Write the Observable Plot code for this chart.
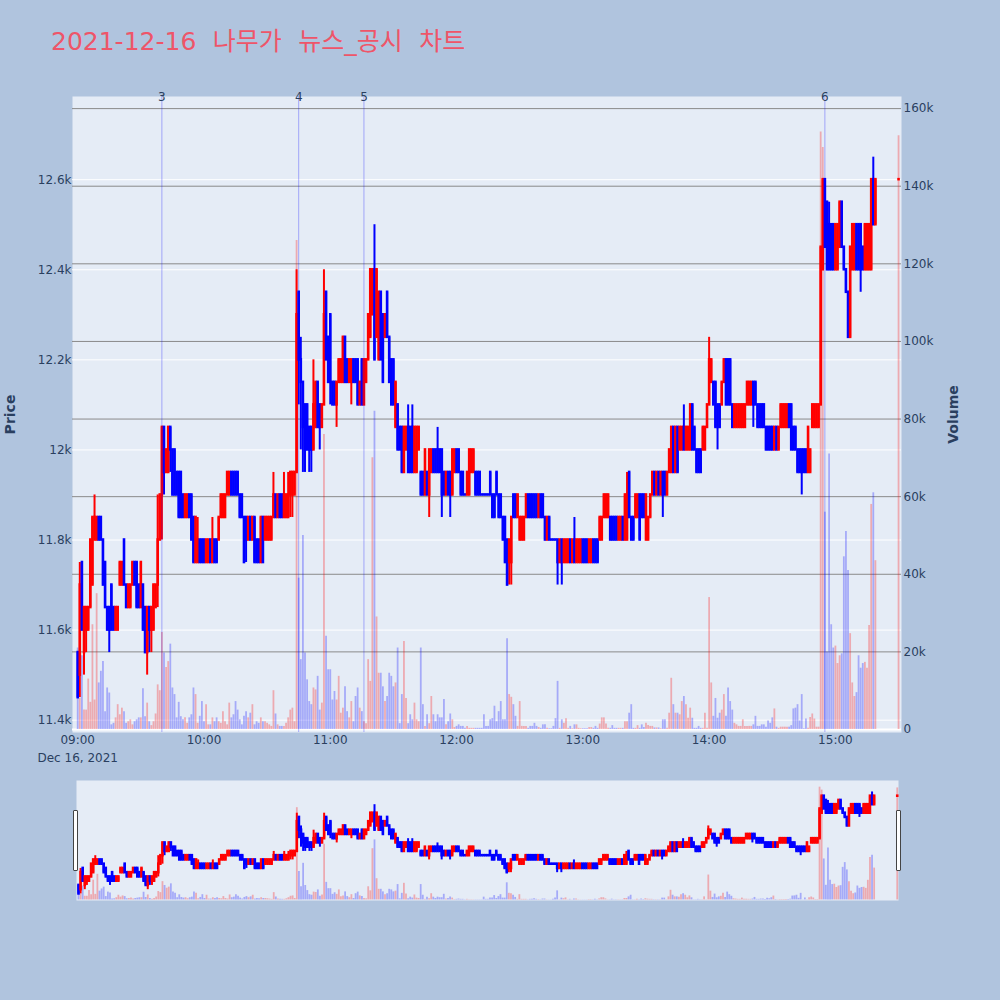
<!DOCTYPE html>
<html>
<head>
<meta charset="utf-8">
<script src="https://cdn.jsdelivr.net/npm/d3@7"></script>
<script src="https://cdn.jsdelivr.net/npm/@observablehq/plot@0.6"></script>
<style>
  html, body { margin: 0; padding: 0; background: #b0c4de; }
  #wrap { position: relative; width: 1000px; height: 1000px; overflow: hidden; background: #b0c4de; }
  .layer { position: absolute; left: 0; }
  #title { position: absolute; left: 51px; top: 29px; font-size: 25px; line-height: 25px; white-space: nowrap; word-spacing: 8.5px;
           color: #ee5569; font-family: "DejaVu Sans", "Noto Sans CJK KR", sans-serif; }
  .grab { position: absolute; top: 810px; width: 5px; height: 61px; box-sizing: border-box;
          background: #fff; border: 1px solid #444; border-radius: 1px; }
</style>
</head>
<body>
<div id="wrap">
  <div id="title">2021-12-16 나무가 뉴스_공시 차트</div>
</div>
<script>
// ---------- data (1-minute candles 09:00-15:19, then 15:30 closing auction) ----------
const sessionStart = "09:00";
const closingAuction = "15:30";
const open = [
11550,11500,11750,11550,11600,11600,11650,11700,11800,11800,
11850,11850,11800,11750,11650,11650,11700,11650,11600,11600,
11700,11700,11800,11700,11650,11650,11700,11750,11750,11700,
11650,11700,11650,11550,11650,11600,11600,11650,11700,11800,
11900,12050,11950,11950,12050,12000,12000,11950,11950,11950,
11900,11850,11850,11900,11900,11850,11750,11750,11800,11800,
11800,11750,11750,11800,11750,11800,11800,11800,11850,11850,
11850,11900,11900,11950,11950,11950,11950,11900,11900,11850,
11850,11800,11850,11800,11850,11800,11800,11750,11850,11800,
11800,11800,11800,11850,11900,11850,11900,11900,11850,11850,
11850,11900,11900,11900,11950,12350,12200,12150,12100,12100,
12050,12050,12000,12050,12150,12100,12050,12100,12350,12250,
12300,12150,12150,12100,12150,12150,12150,12250,12200,12150,
12150,12200,12200,12200,12100,12200,12100,12150,12200,12250,
12300,12400,12250,12200,12350,12300,12250,12350,12250,12200,
12200,12050,12100,12050,12050,11950,12000,12050,12050,12050,
11950,11950,12000,11950,11950,11900,11950,11900,11950,12000,
12000,12000,12000,12000,11950,11900,11950,11950,11900,11950,
12000,12000,11950,11950,11900,11900,11900,11950,11950,11950,
11950,11950,11900,11900,11900,11900,11950,11900,11900,11950,
11900,11900,11850,11850,11800,11750,11750,11900,11900,11850,
11800,11800,11800,11850,11900,11900,11900,11900,11900,11850,
11900,11900,11850,11800,11850,11800,11800,11800,11800,11750,
11800,11750,11750,11750,11800,11750,11800,11750,11750,11750,
11800,11800,11800,11750,11750,11800,11800,11800,11800,11800,
11850,11850,11850,11850,11850,11850,11850,11800,11800,11850,
11800,11800,11950,11850,11850,11850,11850,11900,11900,11900,
11800,11800,11850,11900,11950,11900,11950,11900,11950,11950,
11900,11950,11950,12050,11950,12050,12000,12000,12050,12000,
12000,12000,12100,12050,12000,12000,12000,12000,12000,12050,
12100,12150,12150,12150,12100,12100,12100,12150,12200,12200,
12200,12100,12050,12050,12050,12050,12050,12050,12100,12100,
12100,12150,12150,12100,12100,12100,12100,12050,12050,12050,
12050,12000,12050,12000,12050,12050,12050,12050,12100,12100,
12050,12050,12000,12000,12000,12000,12000,11950,11950,12050,
12050,12050,12050,12100,12400,12600,12550,12500,12500,12500,
12400,12400,12450,12550,12450,12400,12350,12250,12400,12400,
12500,12500,12500,12450,12400,12400,12400,12400,12600,12500,
12600];
const high = [
11550,11750,11750,11650,11650,11650,11800,11850,11900,11850,
11850,11850,11800,11750,11650,11650,11700,11650,11650,11650,
11750,11750,11800,11700,11700,11700,11750,11750,11750,11700,
11750,11700,11650,11650,11650,11650,11700,11700,11900,11900,
12050,12050,12000,12050,12050,12000,12000,11950,11950,11950,
11900,11900,11900,11900,11900,11850,11850,11850,11800,11800,
11800,11800,11800,11800,11850,11800,11800,11850,11900,11900,
11900,11950,11950,11950,11950,11950,11950,11900,11900,11850,
11850,11850,11850,11850,11850,11800,11800,11850,11850,11850,
11850,11850,11850,11950,11900,11900,11900,11900,11950,11900,
11950,11950,11950,11950,12400,12350,12250,12150,12100,12100,
12050,12050,12200,12150,12150,12100,12100,12400,12350,12250,
12300,12150,12150,12150,12200,12200,12250,12250,12200,12200,
12200,12200,12200,12200,12150,12200,12200,12200,12300,12400,
12400,12500,12400,12350,12350,12300,12300,12350,12250,12200,
12200,12150,12100,12050,12050,12050,12050,12100,12050,12100,
12050,12050,12050,11950,11950,12000,11950,12000,12000,12000,
12000,12050,12000,12000,11950,11950,11950,11950,12000,12000,
12000,12000,11950,11950,11900,11950,12000,12000,12000,11950,
11950,11950,11900,11900,11900,11900,11950,11900,11900,11950,
11900,11900,11850,11850,11800,11800,11850,11900,11900,11900,
11850,11850,11850,11900,11900,11900,11900,11900,11900,11900,
11900,11900,11850,11850,11850,11800,11800,11800,11800,11800,
11800,11800,11800,11800,11800,11800,11850,11800,11800,11800,
11800,11800,11800,11800,11800,11800,11800,11800,11850,11850,
11900,11900,11900,11850,11850,11850,11850,11850,11850,11850,
11900,11950,11950,11850,11850,11900,11900,11900,11900,11900,
11900,11850,11900,11950,11950,11950,11950,11950,11950,11950,
11950,12000,12050,12050,12050,12050,12050,12050,12100,12050,
12050,12100,12100,12050,12000,12000,12000,12050,12050,12100,
12250,12200,12150,12150,12100,12100,12150,12200,12200,12200,
12200,12100,12100,12100,12100,12100,12100,12100,12150,12150,
12150,12150,12150,12100,12100,12100,12100,12050,12050,12050,
12050,12050,12050,12050,12100,12100,12100,12100,12100,12100,
12050,12050,12000,12000,12000,12000,12000,12050,12000,12100,
12100,12100,12100,12450,12600,12600,12550,12550,12500,12500,
12500,12500,12550,12550,12450,12400,12350,12450,12500,12500,
12500,12500,12500,12450,12500,12500,12500,12600,12650,12600,
12600];
const low = [
11450,11450,11600,11500,11550,11600,11650,11700,11800,11800,
11800,11800,11700,11650,11600,11550,11600,11600,11600,11600,
11700,11700,11700,11650,11650,11650,11700,11700,11650,11650,
11650,11600,11550,11500,11550,11550,11600,11650,11650,11800,
11800,11900,11950,11950,11950,11900,11900,11900,11850,11850,
11850,11850,11850,11850,11800,11750,11750,11750,11750,11750,
11750,11750,11750,11750,11750,11750,11750,11800,11850,11850,
11850,11900,11900,11900,11900,11900,11900,11850,11850,11750,
11750,11800,11800,11800,11750,11750,11750,11750,11750,11800,
11800,11800,11800,11850,11850,11850,11850,11850,11850,11850,
11850,11850,11850,11900,11950,12100,12000,11950,11950,12000,
11950,11950,12000,12050,12050,12000,12050,12100,12200,12150,
12100,12100,12100,12050,12150,12150,12150,12150,12150,12150,
12100,12150,12150,12100,12100,12100,12100,12150,12200,12250,
12300,12200,12250,12200,12200,12150,12250,12250,12150,12100,
12100,12050,12000,12000,11950,11950,12000,11950,11950,11950,
11950,11950,12000,11900,11900,11900,11900,11850,11950,11950,
11950,11950,11950,11850,11900,11900,11900,11850,11900,11950,
11950,11950,11900,11900,11900,11900,11900,11950,11950,11900,
11900,11900,11900,11900,11900,11900,11900,11850,11850,11900,
11850,11850,11800,11750,11700,11700,11700,11850,11850,11850,
11800,11800,11800,11850,11850,11850,11850,11850,11850,11850,
11850,11850,11800,11800,11800,11800,11800,11800,11700,11750,
11700,11750,11750,11750,11750,11750,11750,11750,11750,11750,
11750,11750,11750,11750,11750,11750,11750,11750,11800,11800,
11850,11850,11850,11800,11800,11800,11800,11800,11800,11800,
11800,11800,11850,11800,11800,11850,11850,11800,11850,11850,
11800,11800,11850,11900,11900,11900,11900,11900,11850,11900,
11900,11950,11950,11950,11950,11950,12000,12000,12000,12000,
12000,12000,12000,12000,11950,11950,11950,12000,12000,12050,
12100,12150,12100,12050,12000,12050,12100,12150,12100,12100,
12100,12050,12050,12050,12050,12050,12050,12050,12100,12100,
12100,12050,12100,12050,12050,12050,12050,12000,12000,12000,
12000,12000,12000,12000,12050,12050,12050,12050,12050,12000,
12000,12000,11950,11950,11900,11950,11950,11950,11950,12050,
12050,12050,12050,12100,12400,12450,12400,12400,12400,12400,
12400,12400,12450,12450,12400,12350,12250,12250,12400,12400,
12400,12400,12350,12400,12400,12400,12400,12400,12500,12500,
12600];
const close = [
11450,11700,11600,11650,11650,11650,11800,11850,11850,11850,
11800,11800,11700,11650,11600,11600,11600,11600,11650,11650,
11750,11750,11700,11650,11700,11700,11750,11700,11650,11650,
11750,11600,11550,11650,11600,11650,11700,11700,11800,11900,
12050,11950,12000,12050,12000,11900,11900,11900,11850,11850,
11850,11900,11900,11850,11800,11750,11850,11800,11750,11750,
11750,11800,11800,11750,11800,11750,11750,11850,11900,11900,
11900,11950,11950,11900,11900,11900,11900,11850,11850,11750,
11800,11850,11800,11850,11750,11750,11750,11850,11750,11850,
11850,11850,11850,11900,11850,11900,11850,11850,11900,11900,
11900,11950,11950,11950,12300,12200,12150,12050,12000,12000,
12000,12000,12100,12150,12050,12050,12100,12300,12200,12150,
12150,12100,12100,12150,12200,12200,12250,12150,12150,12200,
12200,12150,12150,12100,12150,12100,12200,12200,12300,12400,
12400,12200,12400,12350,12200,12150,12300,12250,12150,12100,
12100,12150,12000,12000,11950,12050,12050,11950,11950,11950,
12050,12050,12050,11900,11900,12000,11900,12000,12000,11950,
11950,11950,11950,11900,11900,11950,11900,11900,12000,12000,
11950,11950,11900,11900,11900,11950,12000,12000,12000,11900,
11900,11900,11900,11900,11900,11900,11900,11850,11850,11900,
11850,11850,11800,11750,11700,11800,11850,11850,11850,11900,
11850,11850,11850,11900,11850,11850,11850,11850,11850,11900,
11850,11850,11800,11850,11800,11800,11800,11800,11750,11800,
11750,11800,11800,11800,11750,11800,11750,11800,11800,11800,
11750,11750,11750,11800,11800,11750,11750,11750,11850,11850,
11900,11900,11900,11800,11800,11800,11800,11850,11850,11800,
11900,11900,11850,11800,11800,11900,11900,11800,11850,11850,
11900,11850,11900,11950,11900,11950,11900,11950,11900,11900,
11950,12000,12050,11950,12050,11950,12050,12050,12000,12050,
12050,12100,12000,12000,11950,11950,11950,12050,12050,12100,
12200,12200,12100,12050,12050,12050,12150,12200,12100,12100,
12100,12050,12100,12100,12100,12100,12100,12100,12150,12150,
12150,12100,12100,12050,12050,12050,12050,12000,12000,12000,
12000,12050,12000,12050,12100,12100,12100,12100,12050,12000,
12000,12000,11950,11950,11950,11950,11950,12050,12000,12100,
12100,12100,12100,12450,12600,12450,12400,12400,12400,12400,
12500,12500,12550,12450,12400,12350,12250,12450,12500,12500,
12400,12400,12400,12400,12500,12500,12500,12600,12500,12600,
12600];
const volume = [
21000,8000,19000,5000,5000,13000,7000,27000,7600,35000,
12000,15000,17500,4600,10700,9400,1200,1600,3000,6400,
3800,5500,4600,1600,2000,2500,1200,2000,2500,3000,
3000,10500,3300,6800,2000,1000,2000,4000,11500,10000,
25000,19700,16000,17500,22000,10700,9000,3000,7000,3300,
2500,3000,1600,3000,3800,10700,9000,1600,3400,7200,
2000,6400,1200,1200,3000,2000,3000,2000,1600,4600,
2000,1200,6800,3000,3800,7200,5000,2500,1200,3400,
4600,3000,4200,6400,1200,2000,1600,3000,2000,2000,
1600,1200,800,10000,4000,1200,800,800,800,1600,
3000,5000,5500,2000,126000,39000,18000,50000,19700,12800,
7200,6400,10700,10200,13700,5000,6800,76000,24000,15400,
15400,7600,9800,7600,13700,4200,5500,11000,4600,3000,
7200,2000,8500,10700,5500,4600,2000,1500,18000,12400,
70000,82000,29000,14500,14500,11000,7200,8500,14500,13700,
11000,12000,21000,1500,9000,22700,8000,1500,3800,2500,
6800,2500,2000,21000,6400,800,3800,1500,8500,3800,
2000,3800,3000,3000,7700,1200,2000,4000,2500,500,
800,1200,800,800,300,800,300,300,300,300,
300,300,300,3800,800,800,2500,2800,6000,2000,
4600,7200,2500,2500,23400,9000,8300,6400,3400,800,
7200,800,800,800,300,800,800,1600,800,500,
300,1200,1200,300,200,200,800,2800,12400,300,
2500,1600,2800,300,800,200,1200,1200,300,200,
200,200,200,500,500,300,800,300,1400,3000,
3000,1400,300,300,1000,300,300,300,300,300,
2000,2000,4200,6400,300,300,1000,300,1200,500,
1600,1000,800,800,400,400,400,200,2500,2500,
300,4200,13200,6400,4200,4200,3800,7200,8500,6400,
2900,5500,2900,300,300,800,300,300,4200,300,
34000,12000,3400,8000,2900,4200,5000,9000,3400,10700,
7200,5000,1600,1200,800,800,2500,800,800,800,
800,1200,3400,800,800,1200,1200,600,2200,1600,
3000,5300,600,300,600,600,600,600,600,1000,
5300,5500,6400,2200,9000,200,2700,300,3100,4000,
2700,600,600,154000,150000,56000,20000,71000,27000,21000,
21500,17000,19000,19500,44500,51000,41000,24700,12000,8500,
9500,19000,15800,17000,17300,15800,26800,58000,61000,43500,
153000];
const newsTimes = ["09:40", "10:45", "11:16", "14:55"];
const newsLabels = ["3", "4", "5", "6"];
const priceTicks = [11400, 11600, 11800, 12000, 12200, 12400, 12600];
const volumeTicks = [0, 20000, 40000, 60000, 80000, 100000, 120000, 140000, 160000];
const timeTicks = ["09:00", "10:00", "11:00", "12:00", "13:00", "14:00", "15:00"];
const dateLabel = "Dec 16, 2021";
const titleText = "2021-12-16 나무가 뉴스_공시 차트";

// ---------- build table ----------
const toMin = t => (+t.slice(0, 2) - +sessionStart.slice(0, 2)) * 60 + (+t.slice(3) - +sessionStart.slice(3));
const fmtTime = m => String(9 + Math.floor(m / 60)).padStart(2, "0") + ":" + String(m % 60).padStart(2, "0");
const nCont = open.length - 1;
let prevDir = "up", prevClose = null;
const rows = open.map((o, i) => {
  const c = close[i];
  let dir;
  if (c > o) dir = "up"; else if (c < o) dir = "down";
  else if (prevClose != null && c !== prevClose) dir = c > prevClose ? "up" : "down";
  else dir = prevDir;
  prevDir = dir; prevClose = c;
  return { m: i < nCont ? i : toMin(closingAuction), o, h: high[i], l: low[i], c, v: volume[i], dir };
});
const news = newsTimes.map((t, i) => ({ m: toMin(t), label: newsLabels[i] }));
const col = d => d.dir === "up" ? "#ff0000" : "#0000ff";

const ink = "#2a3f5f";
const baseStyle = { background: "transparent", fontFamily: "DejaVu Sans, sans-serif", fontSize: "12px", color: ink, overflow: "visible" };
const W = 1000, H = 800;
const mainM = { marginLeft: 72, marginRight: 99, marginTop: 96, marginBottom: 68 };
const xMain = { type: "linear", domain: [-2.47, 391.4] };
const priceDomain = [11372.6, 12784.7];
const volDomain = [-773, 163119];

const wrap = document.getElementById("wrap");
function addLayer(svg, top) { svg.classList.add("layer"); svg.style.top = top + "px"; svg.style.position = "absolute"; wrap.insertBefore(svg, document.getElementById("title")); }

// Layer A: background, price grid, price axis, time axis
addLayer(Plot.plot({
  width: W, height: H, ...mainM, style: baseStyle,
  x: { ...xMain, axis: null }, y: { domain: priceDomain, axis: null },
  marks: [
    Plot.frame({ fill: "#e5ecf6", stroke: null }),
    Plot.gridY(priceTicks, { stroke: "#ffffff", strokeOpacity: 1, strokeWidth: 1 }),
    Plot.axisY(priceTicks, { anchor: "left", tickSize: 0, tickPadding: 1, tickFormat: d3.format("~s"), label: null, fontSize: 12 }),
    Plot.axisX(timeTicks.map(toMin), { anchor: "bottom", tickSize: 0, tickPadding: 3, tickFormat: fmtTime, label: null, fontSize: 12 }),
    Plot.text([{ m: 0, t: dateLabel }], { x: "m", text: "t", frameAnchor: "bottom", dy: 25.5, lineAnchor: "middle", fontSize: 12 }),
    Plot.text(["Price"], { frameAnchor: "left", textAnchor: "middle", dx: -62, rotate: -90, fontWeight: "bold", fontSize: 14 })
  ]
}), 0);

// Layer B: volume grid, volume bars, volume axis
addLayer(Plot.plot({
  width: W, height: H, ...mainM, style: baseStyle,
  x: { ...xMain, axis: null }, y: { domain: volDomain, axis: null },
  marks: [
    Plot.gridY(volumeTicks.filter(v => v > 0), { stroke: "#8a8a8a", strokeOpacity: 1, strokeWidth: 1 }),
    Plot.ruleY([0], { stroke: "#ffffff", strokeWidth: 2 }),
    Plot.ruleX(rows, { x: "m", y1: 0, y2: "v", stroke: col, strokeOpacity: 0.28, strokeWidth: 1.8 }),
    Plot.axisY(volumeTicks, { anchor: "right", tickSize: 0, tickPadding: 2, tickFormat: d3.format("~s"), label: null, fontSize: 12 }),
    Plot.text(["Volume"], { frameAnchor: "right", textAnchor: "middle", dx: 52, rotate: -90, fontWeight: "bold", fontSize: 14 })
  ]
}), 0);

// Layer C: candles and news markers
addLayer(Plot.plot({
  width: W, height: H, ...mainM, style: baseStyle,
  x: { ...xMain, axis: null }, y: { domain: priceDomain, axis: null },
  marks: [
    Plot.ruleX(rows, { x: "m", y1: "l", y2: "h", stroke: col, strokeWidth: 2 }),
    Plot.ruleX(rows, { x: "m", y1: "o", y2: "c", stroke: col, strokeWidth: 2.6, strokeLinecap: "square" }),
    Plot.ruleX(news, { x: "m", stroke: "#0000ff", strokeOpacity: 0.3, strokeWidth: 1 }),
    Plot.text(news, { x: "m", text: "label", frameAnchor: "top", lineAnchor: "middle", dy: 0.5, fontSize: 12 })
  ]
}), 0);

// Range slider (overview of the whole session)
const sliderM = { marginLeft: 76, marginRight: 102, marginTop: 0, marginBottom: 0 };
const xSlider = { type: "linear", domain: [-0.95, 390.6], axis: null };
addLayer(Plot.plot({
  width: W, height: 120, ...sliderM, style: baseStyle,
  x: xSlider, y: { domain: volDomain, axis: null },
  marks: [
    Plot.frame({ fill: "#e5ecf6", stroke: null }),
    Plot.ruleX(rows, { x: "m", y1: 0, y2: "v", stroke: col, strokeOpacity: 0.28, strokeWidth: 1.8 })
  ]
}), 780);
addLayer(Plot.plot({
  width: W, height: 120, ...sliderM, style: baseStyle,
  x: xSlider, y: { domain: priceDomain, axis: null },
  marks: [
    Plot.ruleX(rows, { x: "m", y1: "l", y2: "h", stroke: col, strokeWidth: 2 }),
    Plot.ruleX(rows, { x: "m", y1: "o", y2: "c", stroke: col, strokeWidth: 2.6, strokeLinecap: "square" })
  ]
}), 780);

// slider grab handles
for (const left of [73, 896]) {
  const g = document.createElement("div");
  g.className = "grab"; g.style.left = left + "px";
  wrap.appendChild(g);
}
document.getElementById("title").textContent = titleText;
</script>
</body>
</html>
